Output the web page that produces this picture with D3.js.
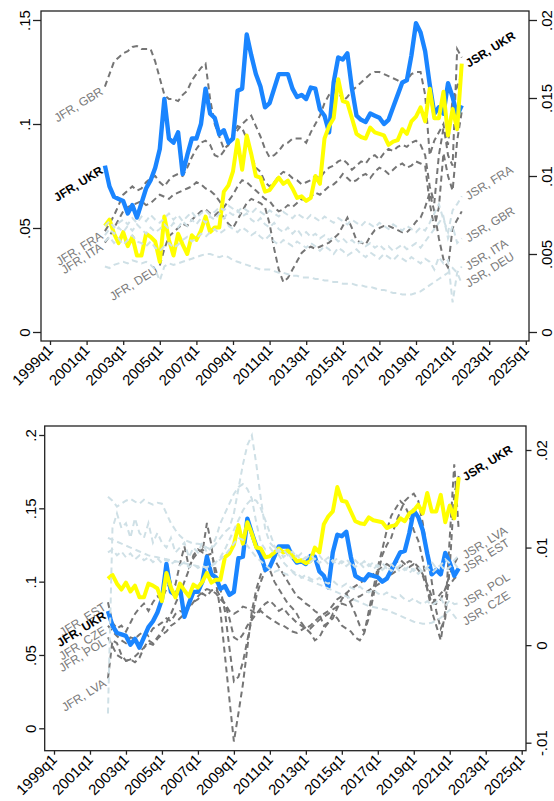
<!DOCTYPE html>
<html><head><meta charset="utf-8">
<script src="https://cdn.jsdelivr.net/npm/d3@7"></script>
<style>body{margin:0;background:#fff}svg text{font-family:"Liberation Sans",Arial,Helvetica,sans-serif}</style>
</head><body><svg id="c" width="554" height="801"></svg>
<script>
// ---------- DATA ----------
const firstQuarter = 12; // 2002q1 (quarters since 1999q1)
const xTickLabels = ["1999q1","2001q1","2003q1","2005q1","2007q1","2009q1","2011q1","2013q1","2015q1","2017q1","2019q1","2021q1","2023q1","2025q1"];
const leftTicksTop = [0,0.05,0.1,0.15];
const rightTicksTop = [0,0.005,0.01,0.015,0.02];
const leftTicksBot = [0,0.05,0.1,0.15,0.2];
const rightTicksBot = [-0.01,0,0.01,0.02];

const jfrUKR = [.080,.070,.065,.064,.063,.057,.061,.055,.062,.069,
.073,.079,.088,.112,.093,.091,.096,.076,.085,.093,
.093,.100,.117,.105,.103,.095,.097,.091,.093,.116,
.117,.143,.133,.124,.118,.108,.110,.117,.124,.124,
.124,.117,.113,.114,.112,.1175,.117,.107,.104,.096,
.120,.132,.131,.134,.117,.104,.102,.101,.105,.104,
.103,.100,.102,.108,.114,.120,.121,.133,.1485,.144,
.135,.119,.105,.108,.105,.1196,.113,.104,.109];
const jsrUKR = [.0068,.0072,.0063,.0057,.0064,.0055,.0061,.0049,.0049,.0063,
.0061,.0058,.0045,.0074,.0059,.0049,.0063,.0056,.0050,.0062,
.0059,.0065,.0074,.0064,.0067,.0067,.0090,.0094,.0103,.0123,
.0104,.0126,.0114,.0100,.0099,.0090,.0091,.0095,.0099,.0095,
.0097,.0092,.0086,.0087,.0084,.0086,.0100,.0095,.0124,.0132,
.0137,.0162,.0148,.0147,.0137,.0127,.0125,.0124,.0131,.0128,
.0127,.0126,.0120,.0122,.0123,.0130,.0127,.0135,.0138,.0144,
.0135,.0156,.0137,.0137,.0154,.0126,.0143,.0130,.0172];

// top panel: other countries
const jfrGBR = [.118,.124,.130,.132,.134,.135,.137,.1375,.136,.136,
.136,.130,.122,.114,.112,.112,.111,.114,.116,.121,
.124,.127,.129,.112,.100,.094,.088,.090,.094,.097,
.100,.102,.104,.099,.094,.088,.084,.085,.087,.090,
.091,.093,.093,.093,.091,.096,.100,.104,.110,.114,
.115,.116,.111,.113,.116,.118,.120,.122,.124,.125,
.125,.124,.123,.122,.121,.1195,.121,.124,.125,.125,
.114,.085,.092,.096,.100,.085,.080,.136,.132];
const jfrFRA = [.0485,.052,.056,.061,.066,.068,.070,.068,.069,.072,
.074,.075,.072,.070,.073,.075,.076,.075,.079,.084,
.088,.091,.092,.090,.085,.084,.087,.090,.095,.099,
.098,.093,.085,.079,.077,.072,.070,.072,.075,.077,
.076,.074,.073,.071,.072,.073,.075,.074,.077,.079,
.080,.082,.083,.081,.078,.080,.082,.081,.084,.085,
.083,.086,.088,.087,.089,.090,.089,.091,.092,.090,
.085,.070,.062,.085,.098,.090,.112,.118,.124];
const jfrITA = [.043,.046,.050,.054,.058,.060,.061,.062,.063,.061,
.062,.064,.066,.065,.064,.066,.067,.068,.069,.070,
.072,.071,.069,.068,.066,.063,.060,.063,.066,.070,
.073,.072,.070,.068,.066,.064,.063,.060,.058,.059,
.061,.060,.062,.064,.063,.065,.067,.066,.068,.070,
.071,.073,.076,.074,.072,.073,.075,.076,.074,.077,
.079,.078,.076,.078,.080,.081,.079,.080,.082,.081,
.080,.062,.050,.060,.086,.075,.068,.092,.106];
const jfrDEU = [null,null,null,null,null,null,null,null,null,null,
null,null,.032,.040,.046,.048,.050,.052,.051,.054,
.056,.058,.059,.057,.056,.058,.055,.052,.050,.054,
.058,.062,.064,.063,.062,.060,.052,.040,.030,.024,
.026,.030,.034,.038,.040,.041,.040,.041,.042,.043,
.045,.047,.051,.055,.050,.044,.043,.042,.046,.049,
.050,.051,.051,.050,.049,.048,.048,.050,.053,.055,
.060,.067,.058,.045,.035,.031,.050,.054,.058];
const jsrFRA = [.0068,.0071,.0067,.0070,.0072,.0069,.0073,.0070,.0074,.0071,
.0075,.0072,.0070,.0073,.0076,.0072,.0075,.0071,.0074,.0077,
.0073,.0076,.0078,.0075,.0077,.0080,.0078,.0081,.0079,.0077,
.0080,.0078,.0076,.0079,.0077,.0075,.0078,.0076,.0074,.0077,
.0075,.0073,.0076,.0074,.0072,.0075,.0073,.0071,.0074,.0072,
.0070,.0073,.0071,.0069,.0072,.0070,.0068,.0071,.0069,.0067,
.0070,.0068,.0066,.0069,.0067,.0065,.0068,.0066,.0064,.0067,
.0065,.0070,.0076,.0082,.0072,.0064,.0078,.0082,.0087];
const jsrGBR = [.0062,.0066,.0063,.0067,.0064,.0068,.0065,.0069,.0066,.0063,
.0067,.0064,.0066,.0069,.0066,.0070,.0067,.0071,.0068,.0072,
.0069,.0073,.0070,.0074,.0072,.0076,.0073,.0077,.0075,.0078,
.0074,.0076,.0072,.0070,.0073,.0069,.0067,.0070,.0066,.0064,
.0067,.0063,.0066,.0062,.0064,.0061,.0063,.0060,.0062,.0059,
.0061,.0058,.0060,.0057,.0059,.0056,.0058,.0055,.0057,.0054,
.0056,.0053,.0055,.0052,.0054,.0056,.0053,.0055,.0057,.0054,
.0058,.0062,.0066,.0070,.0074,.0060,.0068,.0057,.0060];
const jsrITA = [.0058,.0061,.0057,.0060,.0056,.0059,.0062,.0058,.0057,.0055,
.0058,.0054,.0052,.0055,.0057,.0054,.0056,.0059,.0061,.0058,
.0060,.0063,.0061,.0064,.0066,.0063,.0065,.0068,.0066,.0064,
.0067,.0065,.0062,.0064,.0061,.0059,.0062,.0058,.0056,.0059,
.0057,.0055,.0058,.0056,.0054,.0057,.0055,.0052,.0055,.0053,
.0050,.0054,.0052,.0049,.0051,.0053,.0050,.0048,.0051,.0049,
.0047,.0050,.0048,.0046,.0049,.0047,.0045,.0048,.0046,.0044,
.0047,.0045,.0040,.0048,.0044,.0046,.0019,.0038,.0042];
const jsrDEU = [.0042,.0041,.0043,.0044,.0045,.0044,.0046,.0045,.0044,.0045,
.0043,.0040,.0033,.0042,.0044,.0043,.0044,.0045,.0046,.0047,
.0048,.0049,.0050,.0050,.0049,.0048,.0049,.0048,.0046,.0045,
.0044,.0043,.0042,.0041,.0040,.0040,.0040,.0039,.0038,.0038,
.0037,.0036,.0036,.0035,.0035,.0035,.0034,.0034,.0033,.0033,
.0032,.0032,.0031,.0031,.0031,.0030,.0030,.0029,.0029,.0028,
.0027,.0027,.0026,.0025,.0025,.0024,.0024,.0024,.0025,.0026,
.0028,.0030,.0032,.0034,.0036,.0038,.0041,.0038,.0031];

// bottom panel: other countries
const jfrEST = [.086,.072,.068,.070,.066,.072,.078,.082,.085,.080,
.086,.090,.088,.095,.100,.098,.112,.124,.110,.116,
.120,.122,.118,.119,.108,.095,.080,.055,.032,.035,
.045,.060,.075,.090,.100,.108,.112,.115,.110,.105,
.100,.095,.090,.088,.085,.083,.080,.078,.070,.072,
.075,.082,.088,.092,.085,.078,.070,.066,.075,.090,
.105,.118,.125,.130,.140,.148,.155,.158,.160,.155,
.140,.120,.100,.080,.068,.075,.110,.160,.172];
const jfrCZE = [.070,.066,.063,.060,.058,.062,.061,.064,.066,.063,
.068,.070,.072,.075,.073,.078,.080,.079,.083,.086,
.088,.092,.090,.094,.095,.090,.085,.075,.062,.060,
.064,.070,.074,.078,.082,.085,.087,.084,.080,.082,
.078,.075,.072,.070,.068,.070,.073,.076,.078,.080,
.084,.088,.090,.092,.095,.097,.099,.101,.103,.105,
.108,.110,.112,.110,.113,.115,.112,.110,.112,.108,
.104,.095,.085,.088,.092,.095,.098,.102,.105];
const jfrPOL = [.062,.056,.050,.048,.046,.047,.049,.052,.055,.058,
.057,.061,.064,.066,.070,.072,.075,.078,.082,.086,
.090,.093,.095,.094,.092,.088,.085,.080,.078,.080,
.083,.082,.080,.078,.080,.077,.075,.073,.071,.070,
.068,.066,.065,.067,.069,.068,.071,.074,.076,.078,
.081,.083,.085,.084,.087,.089,.090,.092,.094,.096,
.098,.100,.103,.105,.107,.110,.112,.114,.113,.110,
.105,.098,.090,.085,.088,.095,.105,.112,.118];
const jfrLVA = [.034,.060,.058,.050,.046,.047,.045,.048,.055,.060,
.058,.062,.066,.072,.078,.085,.092,.100,.108,.118,
.122,.120,.140,.125,.100,.080,.050,.020,-.009,.010,
.030,.055,.080,.095,.105,.110,.108,.100,.095,.090,
.085,.082,.078,.072,.068,.065,.060,.062,.068,.072,
.078,.075,.070,.068,.066,.062,.060,.065,.080,.095,
.110,.122,.135,.145,.150,.155,.152,.145,.135,.128,
.115,.095,.080,.070,.060,.080,.130,.180,.135];
const jsrLVA = [-.007,.012,.0135,.012,.0125,.011,.013,.0115,.011,.0125,
.0105,.0115,.0105,.010,.011,.0095,.010,.0105,.009,.010,
.0095,.0105,.0095,.010,.011,.0125,.0135,.0145,.0155,.0162,
.0165,.0160,.0150,.0125,.0105,.0098,.010,.0094,.0098,.0090,
.0094,.0088,.0092,.0087,.0090,.0085,.0089,.0084,.0088,.0083,
.0087,.0082,.0086,.0081,.0085,.0080,.0084,.0079,.0083,.0078,
.0082,.0077,.0081,.0076,.0080,.0075,.0079,.0074,.0078,.0073,
.0077,.0080,.0085,.0079,.0082,.0088,.0084,.0087,.0092];
const jsrEST = [.0152,.0148,.0142,.0145,.0148,.0150,.0147,.0145,.0149,.0146,
.0144,.0146,.0145,.0135,.0125,.0118,.0112,.0108,.0106,.0104,
.0104,.0103,.0100,.0098,.0104,.0110,.0116,.0120,.0135,.0160,
.0185,.0205,.0215,.0185,.0150,.0118,.0105,.0100,.0095,.0098,
.0092,.0096,.0090,.0094,.0089,.0093,.0088,.0092,.0086,.0090,
.0085,.0089,.0084,.0088,.0083,.0087,.0082,.0086,.0081,.0085,
.0080,.0084,.0079,.0083,.0078,.0082,.0077,.0081,.0076,.0080,
.0075,.0079,.0074,.0078,.0082,.0076,.0080,.0084,.0078];
const jsrPOL = [.0095,.0098,.0092,.0096,.0090,.0094,.0088,.0092,.0087,.0090,
.0085,.0089,.0084,.0088,.0083,.0086,.0082,.0085,.0080,.0083,
.0079,.0082,.0078,.0081,.0084,.0088,.0092,.0098,.0104,.0110,
.0108,.0102,.0096,.0090,.0086,.0082,.0078,.0075,.0077,.0074,
.0072,.0075,.0071,.0069,.0072,.0068,.0066,.0069,.0065,.0063,
.0066,.0062,.0060,.0063,.0059,.0057,.0060,.0056,.0054,.0057,
.0053,.0051,.0054,.0050,.0048,.0051,.0047,.0045,.0048,.0044,
.0042,.0045,.0041,.0044,.0048,.0040,.0046,.0042,.0043];
const jsrCZE = [.0110,.0108,.0106,.0104,.0102,.0100,.0098,.0096,.0094,.0092,
.0091,.0090,.0089,.0088,.0087,.0086,.0085,.0084,.0083,.0082,
.0081,.0080,.0080,.0082,.0085,.0090,.0098,.0108,.0118,.0128,
.0138,.0145,.0150,.0148,.0140,.0128,.0115,.0102,.0092,.0085,
.0080,.0076,.0073,.0070,.0068,.0066,.0064,.0062,.0060,.0058,
.0056,.0054,.0052,.0050,.0048,.0046,.0044,.0042,.0040,.0039,
.0038,.0037,.0036,.0034,.0032,.0030,.0028,.0026,.0024,.0023,
.0022,.0022,.0023,.0025,.0028,.0032,.0036,.0030,.0024];

const topJFRNames = ["JFR, GBR","JFR, FRA","JFR, ITA","JFR, DEU"];
const topJSRNames = ["JSR, FRA","JSR, GBR","JSR, ITA","JSR, DEU"];
const botJFRNames = ["JFR, EST","JFR, CZE","JFR, POL","JFR, LVA"];
const botJSRNames = ["JSR, LVA","JSR, EST","JSR, POL","JSR, CZE"];
const ukrJFRName = "JFR, UKR", ukrJSRName = "JSR, UKR";

// ---------- DRAW ----------
const svg = d3.select("#c");
const fmt = v => String(+v.toFixed(4)).replace(/^0\./,".").replace(/^-0\./,"-.");
const toPts = arr => arr.map((v,i)=>({q:firstQuarter+i, v:v}));
const ANG = -32;

function panel(P){
  const x = d3.scaleLinear().domain([0,104]).range(P.xr);
  const yL = d3.scaleLinear().domain(P.lDom).range(P.lRng);
  const yR = d3.scaleLinear().domain(P.rDom).range(P.rRng);
  const g = svg.append("g");
  const mk = ys => d3.line().defined(d=>d.v!=null).x(d=>x(d.q)).y(d=>ys(d.v));
  const lineL = mk(yL), lineR = mk(yR);

  const lab = g.append("g");
  function leftLabel(arr, name, ys, bold){
    const p = toPts(arr).filter(d=>d.v!=null)[0];
    lab.append("text").attr("transform",`translate(${x(p.q)-1},${ys(p.v)+7}) rotate(${ANG})`)
      .attr("text-anchor","end")
      .attr("font-size",12).attr("font-weight",bold?"bold":"normal")
      .attr("fill",bold?"#000":"#7a7a7a").text(name);
  }
  function rightLabel(arr, name, ys, bold){
    const pts = toPts(arr); const p = pts[pts.length-1];
    lab.append("text").attr("transform",`translate(${x(p.q)+7},${ys(p.v)+4}) rotate(${ANG})`)
      .attr("text-anchor","start")
      .attr("font-size",12).attr("font-weight",bold?"bold":"normal")
      .attr("fill",bold?"#000":"#7a7a7a").text(name);
  }
  P.jfr.forEach((a,k)=>leftLabel(a,P.jfrNames[k],yL,false));
  P.jsr.forEach((a,k)=>rightLabel(a,P.jsrNames[k],yR,false));
  leftLabel(jfrUKR, ukrJFRName, yL, true);
  rightLabel(jsrUKR, ukrJSRName, yR, true);

  P.jfr.forEach(a=>g.append("path").datum(toPts(a)).attr("d",lineL)
    .attr("fill","none").attr("stroke","#757575").attr("stroke-width",2).attr("stroke-dasharray","6,4"));
  g.append("path").datum(toPts(jfrUKR)).attr("d",lineL).attr("fill","none")
    .attr("stroke","#1a85ff").attr("stroke-width",4.4).attr("stroke-linejoin","round");
  g.append("path").datum(toPts(jsrUKR)).attr("d",lineR).attr("fill","none")
    .attr("stroke","#ffff00").attr("stroke-width",4).attr("stroke-linejoin","round");
  P.jsr.forEach(a=>g.append("path").datum(toPts(a)).attr("d",lineR)
    .attr("fill","none").attr("stroke","#cfe0e6").attr("stroke-width",2).attr("stroke-dasharray","6,4"));

  g.append("rect").attr("x",P.box.l).attr("y",P.box.t).attr("width",P.box.r-P.box.l).attr("height",P.box.b-P.box.t)
    .attr("fill","none").attr("stroke","#222").attr("stroke-width",1.3);

  const aL = g.append("g").attr("transform",`translate(${P.box.l},0)`)
    .call(d3.axisLeft(yL).tickValues(P.lTicks).tickSize(P.tl).tickFormat(fmt));
  aL.select(".domain").remove();
  aL.selectAll("line").attr("stroke","#222").attr("stroke-width",1.3);
  aL.selectAll("text").attr("x",null).attr("dy",null)
    .attr("transform",`translate(${-P.tl-3.3},0) rotate(-90)`).attr("text-anchor","middle")
    .style("font-size","15px").attr("fill","#000");

  const aR = g.append("g").attr("transform",`translate(${P.box.r},0)`)
    .call(d3.axisRight(yR).tickValues(P.rTicks).tickSize(P.tl).tickFormat(fmt));
  aR.select(".domain").remove();
  aR.selectAll("line").attr("stroke","#222").attr("stroke-width",1.3);
  aR.selectAll("text").attr("x",null).attr("dy",null)
    .attr("transform",`translate(${P.tl+15},0) rotate(-90)`).attr("text-anchor","middle")
    .style("font-size","15px").attr("fill","#000");

  const aB = g.append("g").attr("transform",`translate(0,${P.box.b})`)
    .call(d3.axisBottom(x).tickValues(d3.range(0,105,8)).tickSize(4).tickFormat((d,i)=>xTickLabels[i]));
  aB.select(".domain").remove();
  aB.selectAll("line").attr("stroke","#222").attr("stroke-width",1.3);
  aB.selectAll("text").attr("y",null).attr("dy",null)
    .attr("transform","translate(3.5,10) rotate(-45)").attr("text-anchor","end")
    .style("font-size","15px").attr("fill","#000");
}

panel({
  xr:[50,525.8], box:{l:41,r:529,t:11,b:341},
  lDom:[0,0.15], lRng:[332,20], rDom:[0,0.02], rRng:[332,20],
  lTicks:leftTicksTop, rTicks:rightTicksTop, tl:8,
  jfr:[jfrGBR,jfrFRA,jfrITA,jfrDEU], jfrNames:topJFRNames,
  jsr:[jsrFRA,jsrGBR,jsrITA,jsrDEU], jsrNames:topJSRNames
});
panel({
  xr:[54,521.7], box:{l:44.7,r:526,t:426,b:750.7},
  lDom:[0,0.2], lRng:[728.3,435], rDom:[-0.01,0.02], rRng:[742.7,450],
  lTicks:leftTicksBot, rTicks:rightTicksBot, tl:5.5,
  jfr:[jfrEST,jfrCZE,jfrPOL,jfrLVA], jfrNames:botJFRNames,
  jsr:[jsrLVA,jsrEST,jsrPOL,jsrCZE], jsrNames:botJSRNames
});
</script></body></html>
